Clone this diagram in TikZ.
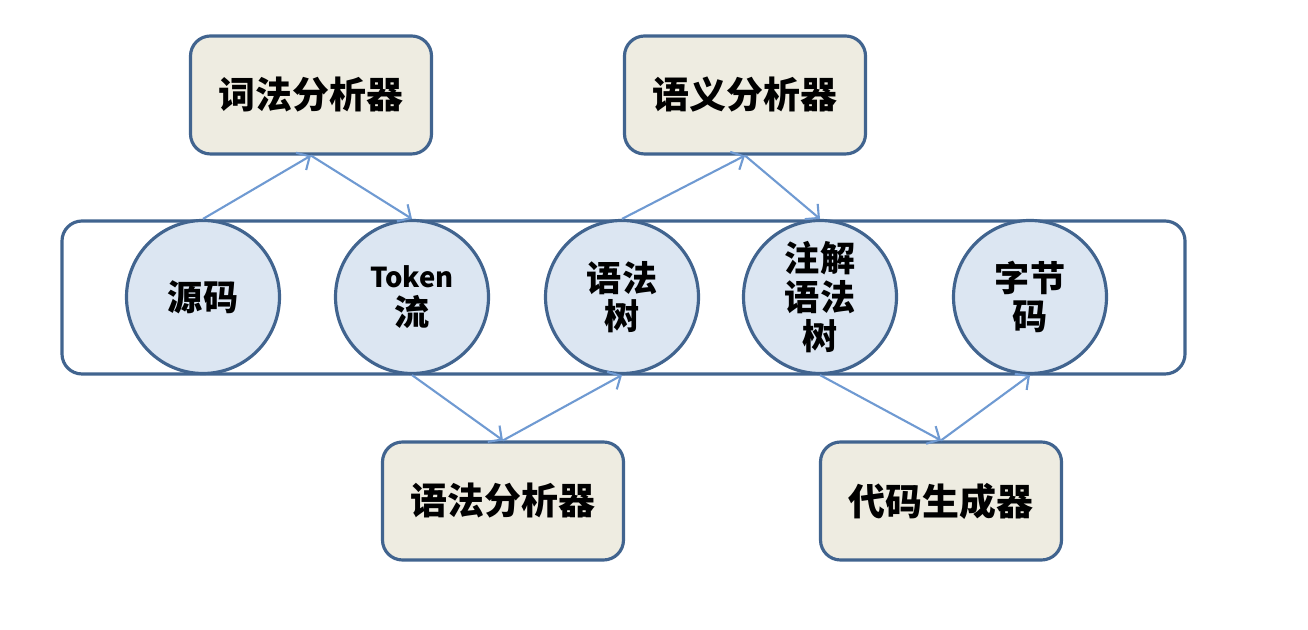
\documentclass[tikz,border=0pt]{standalone}
\usepackage{fontspec}
\newfontfamily\cjk{Noto Sans CJK SC}
\usepackage{xcolor}
\usetikzlibrary{arrows.meta, positioning, calc}
\definecolor{rim}{HTML}{41648F}
\definecolor{flow}{HTML}{6F9AD2}
\definecolor{beige}{HTML}{EEECE1}
\definecolor{pale}{HTML}{DCE6F2}
\begin{document}
\begin{tikzpicture}[
    tool/.style={rectangle, rounded corners=2mm, draw=rim, line width=0.9pt, fill=beige,
        minimum width=2.41cm, minimum height=1.18cm, font=\cjk\bfseries\fontsize{10.5}{12}\selectfont},
    data/.style={circle, draw=rim, line width=0.9pt, fill=pale, minimum size=1.53cm, inner sep=0pt,
        align=center, font=\cjk\bfseries\fontsize{10}{11}\selectfont},
    feed/.style={draw=flow, line width=0.6pt, -{Straight Barb[length=1mm, width=2mm]}}]
    \useasboundingbox (0,0) rectangle (13.08,6.30);
    \draw[rim, line width=0.9pt, rounded corners=2mm] (0.62,2.56) rectangle (11.85,4.09);
    \node[data] (yuanma) at (2.03,3.33) {源码};
    \node[data] (token) at (4.12,3.33) {{\fontsize{7.8}{9}\selectfont Token}\\流};
    \node[data] (yufashu) at (6.22,3.33) {语法\\树};
    \node[data] (zhujie) at (8.20,3.33) {注解\\语法\\树};
    \node[data] (zijie) at (10.30,3.33) {字节\\码};
    \node[tool] (cifa) at (3.11,5.35) {词法分析器};
    \node[tool] (yuyi) at (7.45,5.35) {语义分析器};
    \node[tool] (yufa) at (5.03,1.29) {语法分析器};
    \node[tool] (daima) at (9.41,1.29) {代码生成器};
    \draw[feed] (yuanma.north) -- (cifa.south);
    \draw[feed] (cifa.south) -- (token.north);
    \draw[feed] (yufashu.north) -- (yuyi.south);
    \draw[feed] (yuyi.south) -- (zhujie.north);
    \draw[feed] (token.south) -- (yufa.north);
    \draw[feed] (yufa.north) -- (yufashu.south);
    \draw[feed] (zhujie.south) -- (daima.north);
    \draw[feed] (daima.north) -- (zijie.south);
\end{tikzpicture}
\end{document}
